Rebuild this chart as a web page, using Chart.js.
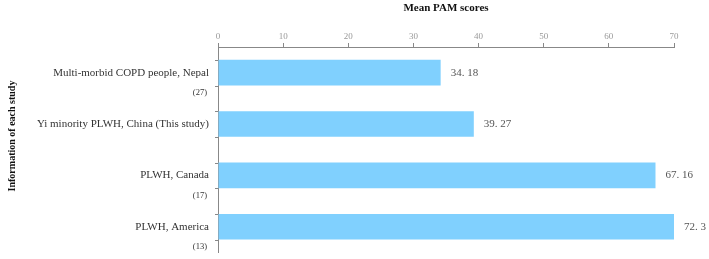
<!DOCTYPE html>
<html>
<head>
<meta charset="utf-8">
<script src="https://cdn.jsdelivr.net/npm/chart.js@4/dist/chart.umd.min.js"></script>
<style>
  html, body { margin: 0; padding: 0; background: #fff; }
  .chartContainer { width: 709px; height: 259px; }
</style>
</head>
<body>
<div class="chartContainer"><canvas id="chart"></canvas></div>
<script>
const studies = [
  'Multi-morbid COPD people, Nepal',
  'Yi minority PLWH, China (This study)',
  'PLWH, Canada',
  'PLWH, America'
];
const refs = ['(27)', '', '(17)', '(13)'];
const meanScores = [34.18, 39.27, 67.16, 72.3];
const xTicks = [0, 10, 20, 30, 40, 50, 60, 70];
const yTitle = 'Information of each study';

const serif = '"Liberation Serif", "Times New Roman", serif';

// value labels, reference numbers, y title and small ticks at bar edges
const barExtras = {
  id: 'barExtras',
  afterDatasetsDraw(chart) {
    const ctx = chart.ctx;
    const meta = chart.getDatasetMeta(0);
    const area = chart.chartArea;
    ctx.save();
    meta.data.forEach((bar, i) => {
      const half = bar.height / 2;
      // value (bar is clipped at the axis max)
      ctx.font = '11px ' + serif;
      ctx.fillStyle = '#555';
      ctx.textAlign = 'left';
      ctx.textBaseline = 'middle';
      ctx.fillText(String(meanScores[i]).replace('.', '. '), Math.min(bar.x, area.right) + 10, bar.y);
      // reference number
      if (refs[i]) {
        ctx.font = '8.5px ' + serif;
        ctx.fillStyle = '#333';
        ctx.textAlign = 'right';
        ctx.fillText(refs[i], area.left - 11, bar.y + 20);
      }
      // edge ticks
      ctx.strokeStyle = '#888';
      ctx.lineWidth = 1;
      ctx.beginPath();
      [bar.y - half, bar.y + half].forEach(y => {
        ctx.moveTo(area.left - 3, Math.round(y) + 0.5);
        ctx.lineTo(area.left, Math.round(y) + 0.5);
      });
      ctx.stroke();
    });
    // y axis title
    ctx.translate(12, 136);
    ctx.rotate(-Math.PI / 2);
    ctx.font = 'bold 10px ' + serif;
    ctx.fillStyle = '#111';
    ctx.textAlign = 'center';
    ctx.textBaseline = 'middle';
    ctx.fillText(yTitle, 0, 0);
    ctx.restore();
  }
};

new Chart(document.getElementById('chart'), {
  type: 'bar',
  data: {
    labels: studies,
    datasets: [{
      data: meanScores,
      backgroundColor: '#80D0FE',
      borderWidth: 0,
      barPercentage: 0.5,
      categoryPercentage: 1.0
    }]
  },
  options: {
    indexAxis: 'y',
    responsive: true,
    maintainAspectRatio: false,
    animation: false,
    layout: { padding: { top: 0, right: 35, bottom: 0, left: 0 } },
    plugins: {
      legend: { display: false },
      tooltip: { enabled: false }
    },
    scales: {
      x: {
        position: 'top',
        min: 0,
        max: 70,
        afterBuildTicks: scale => { scale.ticks = xTicks.map(v => ({ value: v })); },
        afterFit: scale => { scale.height = 47; },
        border: { color: '#888', width: 1 },
        grid: { drawOnChartArea: false, tickLength: 4, color: '#888' },
        ticks: {
          color: '#999',
          font: { family: serif, size: 9 },
          padding: 1,
          maxRotation: 0
        },
        title: {
          display: true,
          text: 'Mean PAM scores',
          color: '#111',
          font: { family: serif, size: 11, weight: 'bold' },
          padding: { top: 2, bottom: 0 }
        }
      },
      y: {
        afterFit: scale => { scale.width = 218; },
        border: { color: '#888', width: 1 },
        // invisible tick marks keep the labels 9px off the axis
        grid: { drawOnChartArea: false, tickLength: 9, tickColor: 'rgba(0,0,0,0)' },
        ticks: {
          color: '#333',
          font: { family: serif, size: 11 },
          padding: 0
        }
      }
    }
  },
  plugins: [barExtras]
});
</script>
</body>
</html>
